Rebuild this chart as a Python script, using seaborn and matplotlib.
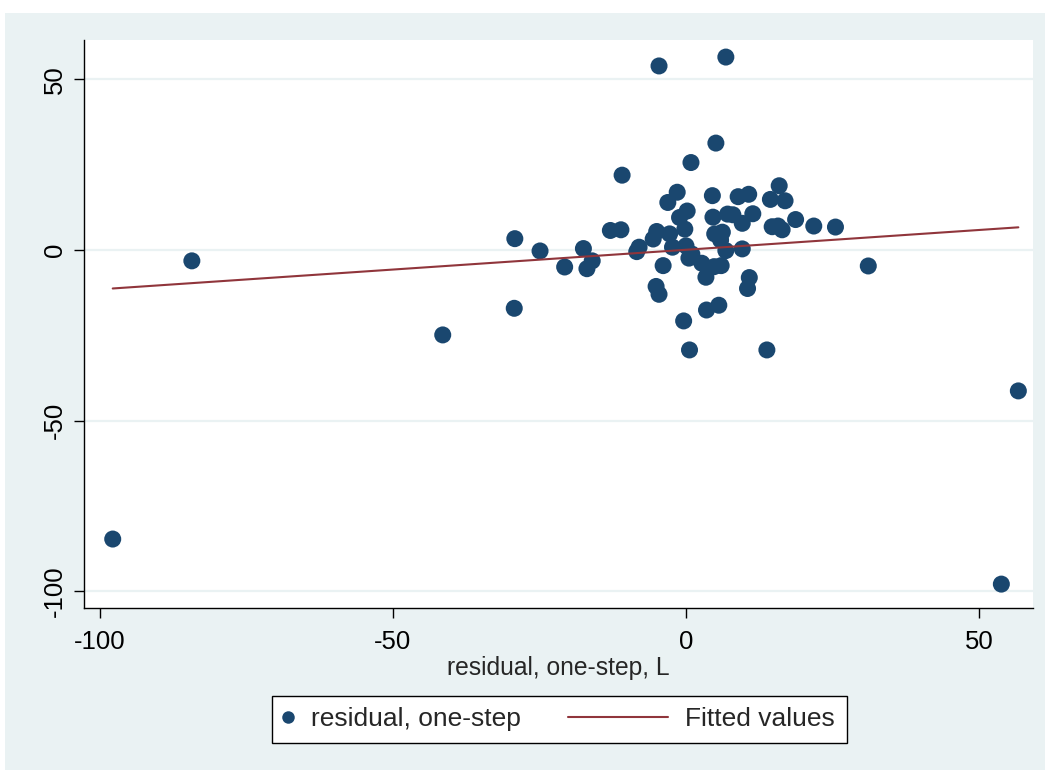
import numpy as np
import pandas as pd
import matplotlib
matplotlib.use("Agg")
import matplotlib.pyplot as plt
import seaborn as sns
from matplotlib.patches import Rectangle
from matplotlib.lines import Line2D
from matplotlib.legend_handler import HandlerLine2D

sns.set_style("white")
plt.rcParams['font.family'] = ['Liberation Sans', 'DejaVu Sans']
plt.rcParams['axes.unicode_minus'] = False

# data: lagged residual (x) vs residual (y)
resid_lag = [
    5.1, 0.85, -10.9, 15.9, -1.5, 4.5, 8.9, 10.7, 14.4, 16.9,
    -3.1, 0.2, -1.1, 4.6, 7.1, 8.0, 11.4, 9.6, 18.7, -0.2,
    21.8, 25.5, 14.7, 15.7, 16.4, -12.9, -11.1, -5.0, -2.8, -5.6,
    4.9, 6.2, 5.9, -2.3, 0.0, 1.0, 0.5, -8.0, -8.4, 6.8,
    9.6, -3.9, 2.7, 4.8, 6.0, 3.4, 10.8, 10.5, -5.1, -4.6,
    3.5, 5.6, -0.4, 0.6, 13.8, -4.6, 6.8, -29.2, -24.9, -17.5,
    -20.7, -16.9, -16.0, -29.3, -97.8, -84.3, -41.5, 31.1, 56.7, 53.8,
]
resid = [
    31.3, 25.6, 21.9, 18.8, 16.9, 15.9, 15.6, 16.3, 14.8, 14.4,
    13.9, 11.4, 9.5, 9.6, 10.5, 10.3, 10.6, 7.8, 8.9, 6.1,
    7.0, 6.7, 6.8, 7.0, 5.9, 5.7, 5.9, 5.4, 4.7, 3.2,
    4.7, 5.2, 2.9, 0.8, 1.2, -1.2, -2.4, 0.8, -0.5, -0.2,
    0.3, -4.6, -3.9, -4.9, -4.6, -8.0, -8.1, -11.3, -10.7, -13.0,
    -17.6, -16.2, -20.8, -29.3, -29.3, 53.9, 56.5, 3.3, -0.3, 0.4,
    -5.0, -5.5, -3.2, -17.1, -84.7, -3.2, -24.9, -4.7, -41.3, -97.9,
]
ticks = [-100, -50, 0, 50]

df = pd.DataFrame({'lag': resid_lag, 'resid': resid})

# linear fit
slope, intercept = np.polyfit(df['lag'], df['resid'], 1)
xfit = np.array([df['lag'].min(), df['lag'].max()])
yfit = intercept + slope * xfit

navy = '#1A476F'
maroon = '#90353B'
bg = '#EAF2F3'

fig = plt.figure(figsize=(10.49, 7.73), dpi=100)
fig.patch.set_facecolor('white')
fig.patches.append(Rectangle((5 / 1049, 1 - 770 / 773), 1040 / 1049, 757 / 773,
                             transform=fig.transFigure, facecolor=bg,
                             edgecolor='none', zorder=-10))

ax = fig.add_axes([84 / 1049, 1 - 608 / 773, 949 / 1049, 568 / 773])
ax.set_facecolor('white')

ax.grid(axis='y', color=bg, linewidth=1.6)
ax.set_axisbelow(True)

sns.scatterplot(data=df, x='lag', y='resid', ax=ax, color=navy, s=150,
                edgecolor='none', zorder=3, legend=False)
sns.lineplot(x=xfit, y=yfit, ax=ax, color=maroon, linewidth=1.5, zorder=4)

ax.set_xlim(-102.7, 59.2)
ax.set_ylim(-104.9, 61.5)
ax.set_xticks(ticks)
ax.set_yticks(ticks)
ax.set_yticklabels([str(t) for t in ticks], rotation=90, va='center')
ax.tick_params(axis='both', direction='out', length=7, width=1, labelsize=18.5,
               colors='black', left=True, bottom=True)
ax.tick_params(axis='x', pad=9)
ax.tick_params(axis='y', pad=5)

for side in ['top', 'right']:
    ax.spines[side].set_visible(False)
for side in ['left', 'bottom']:
    ax.spines[side].set_color('black')
    ax.spines[side].set_linewidth(1)

ax.set_xlabel('residual, one-step, L', fontsize=17.7, labelpad=1)
ax.set_ylabel('')


# legend: marker sits at the right end of its handle, close to its text
class MarkerRight(HandlerLine2D):
    def get_xdata(self, legend, xdescent, ydescent, width, height, fontsize):
        x = -xdescent + width - 6 * 72 / 100
        return np.array([x, x]), np.array([x])


h_pts = Line2D([], [], linestyle='none', marker='o', markersize=9,
               markerfacecolor=navy, markeredgecolor='none')
h_fit = Line2D([], [], color=maroon, linewidth=1.5)
leg = fig.legend([h_pts, h_fit], ['residual, one-step', 'Fitted values'],
                 loc='center left', bbox_to_anchor=(194 / 1049, 1 - 719 / 773),
                 ncol=2, fontsize=19, frameon=False, borderpad=0,
                 borderaxespad=0, handlelength=3.79, handletextpad=0.64,
                 columnspacing=1.78, handler_map={h_pts: MarkerRight()})
fig.patches.append(Rectangle((272 / 1049, 1 - 743 / 773), 575 / 1049, 47 / 773,
                             transform=fig.transFigure, facecolor='white',
                             edgecolor='black', linewidth=1, zorder=-5))

fig.savefig('out.png', dpi=100, facecolor=fig.get_facecolor())
